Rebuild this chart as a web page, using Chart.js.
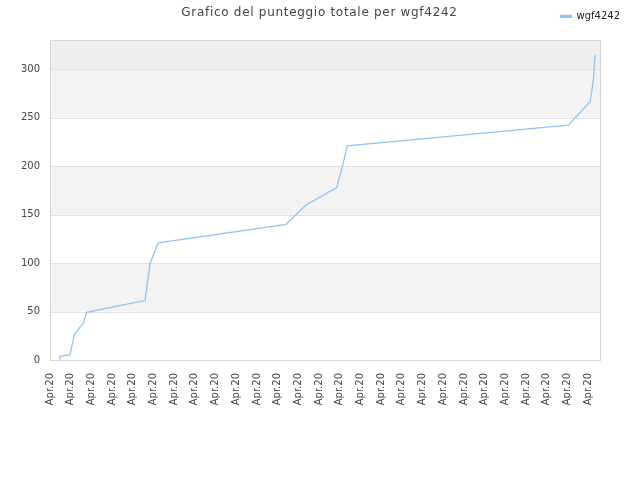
<!DOCTYPE html>
<html>
<head>
<meta charset="utf-8">
<script src="https://cdn.jsdelivr.net/npm/chart.js@4.4.0/dist/chart.umd.min.js"></script>
<style>
  html, body { margin: 0; padding: 0; background: #fff; }
  #wrap { width: 640px; height: 480px; }
</style>
</head>
<body>
<div id="wrap"><canvas id="myChart" width="640" height="480"></canvas></div>
<script>
// x is measured in label steps (one "Apr.20" tick per step)
const pointX = [0.45, 0.48, 0.97, 1.17, 1.45, 1.61, 1.77, 4.59, 4.67, 4.83, 5.23,
                11.40, 12.37, 13.85, 14.14, 14.36, 25.04, 26.09, 26.25, 26.33];
const score  = [0, 3.7, 5.5, 26, 34, 38, 49.3, 61.4, 74, 99.4, 121,
                140, 160, 178, 201, 221, 242.4, 266.6, 289, 315];
const tickLabel = 'Apr.20';
const tickCount = 27;
const yTicks = [0, 50, 100, 150, 200, 250, 300];

// shaded bands + frame behind the line
const bands = {
    id: 'bands',
    afterLayout(chart){
        // title is drawn with a little letter spacing
        const t = chart.titleBlock;
        if(t && !t._spaced){
            const orig = t.draw;
            t.draw = function(){
                const c = this.ctx;
                c.save();
                c.letterSpacing = '0.7px';
                c.translate(4, 0);
                orig.call(this);
                c.restore();
            };
            t._spaced = true;
        }
    },
    beforeDatasetsDraw(chart){
        const {ctx, chartArea: a, scales: {y}} = chart;
        ctx.save();
        const fills = ['#ffffff', '#f3f3f3', '#ffffff', '#f3f3f3', '#ffffff', '#f3f3f3', '#eeeeee'];
        const edges = yTicks.concat([y.max]);
        for(let i = 0; i < edges.length - 1; i++){
            const top = y.getPixelForValue(edges[i + 1]);
            const bottom = y.getPixelForValue(edges[i]);
            ctx.fillStyle = fills[i];
            ctx.fillRect(a.left, top, a.right - a.left, bottom - top);
        }
        ctx.strokeStyle = '#e2e2e2';
        ctx.lineWidth = 1;
        yTicks.forEach(v => {
            const py = Math.round(y.getPixelForValue(v)) + 0.5;
            ctx.beginPath();
            ctx.moveTo(a.left, py);
            ctx.lineTo(a.right, py);
            ctx.stroke();
        });
        ctx.strokeStyle = '#d6d6d6';
        ctx.strokeRect(Math.round(a.left) + 0.5, Math.round(a.top) + 0.5,
                       Math.round(a.right - a.left), Math.round(a.bottom - a.top));
        ctx.restore();
    }
};

window.onload = () => {
    Chart.defaults.font.family = "'DejaVu Sans', sans-serif";
    Chart.defaults.color = '#444';
    const ctx = document.getElementById('myChart').getContext('2d');
    const myChart = new Chart(ctx, {
        type: 'line',
        data: {
            datasets: [{
                label: 'wgf4242',
                data: pointX.map((x, i) => ({x: x, y: score[i]})),
                borderColor: '#90c3f5',
                backgroundColor: '#90c3f5',
                borderWidth: 1.3,
                pointRadius: 0,
                tension: 0,
                fill: false
            }]
        },
        plugins: [bands],
        options: {
            responsive: false,
            animation: false,
            layout: { padding: { left: 0, right: 9, top: 0, bottom: 0 } },
            plugins: {
                title: {
                    display: true,
                    text: 'Grafico del punteggio totale per wgf4242',
                    color: '#444',
                    font: { size: 12, weight: 'normal' },
                    padding: { top: 6, bottom: -20 }
                },
                subtitle: {
                    display: true,
                    text: '',
                    weight: 500,
                    padding: { top: 0, bottom: -3 },
                    font: { size: 10 }
                },
                legend: {
                    position: 'top',
                    align: 'end',
                    labels: {
                        color: '#222',
                        font: { size: 10 },
                        boxWidth: 11,
                        boxHeight: 2,
                        padding: 11
                    }
                },
                tooltip: { enabled: false }
            },
            scales: {
                x: {
                    type: 'linear',
                    min: 0,
                    max: 26.57,
                    grid: { display: false, drawTicks: false },
                    border: { display: false },
                    afterBuildTicks: (axis) => {
                        axis.ticks = [];
                        for(let i = 0; i < tickCount; i++) axis.ticks.push({value: i});
                    },
                    ticks: {
                        autoSkip: false,
                        maxRotation: 90,
                        minRotation: 90,
                        padding: 13,
                        font: { size: 10 },
                        callback: () => tickLabel
                    },
                    afterFit: (axis) => { axis.height = 120; }
                },
                y: {
                    min: 0,
                    max: 330,
                    grid: { display: false, drawTicks: false },
                    border: { display: false },
                    afterBuildTicks: (axis) => {
                        axis.ticks = yTicks.map(v => ({value: v}));
                    },
                    ticks: {
                        padding: 10,
                        font: { size: 10 }
                    },
                    afterFit: (axis) => { axis.width = 50; }
                },
                right: {
                    position: 'right',
                    grid: { display: false, drawTicks: false },
                    border: { display: false },
                    ticks: { display: false },
                    afterFit: (axis) => { axis.width = 31; }
                }
            }
        }
    });
}
</script>
</body>
</html>
